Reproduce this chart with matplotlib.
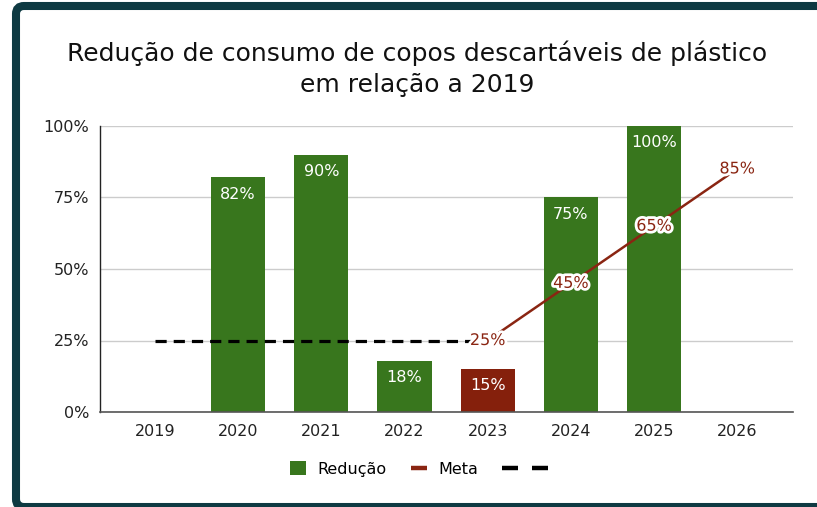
import numpy as np
import matplotlib
matplotlib.use('Agg')
import matplotlib.pyplot as plt
from matplotlib.patches import FancyBboxPatch, Patch
from matplotlib.lines import Line2D
from matplotlib.legend_handler import HandlerBase
import matplotlib.patheffects as pe
from matplotlib.transforms import IdentityTransform

plt.rcParams['font.family'] = ['DejaVu Sans']

# ---- data ----
years = ['2019', '2020', '2021', '2022', '2023', '2024', '2025', '2026']
reducao = [None, 82, 90, 18, 15, 75, 100, None]
meta = [None, None, None, None, 25, 45, 65, 85]
baseline = [25, 25, 25, 25, 25, None, None, None]
yticks = [0, 25, 50, 75, 100]
ytick_labels = ['0%', '25%', '50%', '75%', '100%']
title = 'Redução de consumo de copos descartáveis de plástico\nem relação a 2019'
legend_labels = ['Redução', 'Meta', '']

GREEN = '#38761d'
RED = '#85200c'
META = '#8a2512'
BORDER = '#0e3a42'

W, H = 817, 507
fig = plt.figure(figsize=(W / 100, H / 100), dpi=100)
fig.patch.set_facecolor('white')

# border (display pixels)
border = FancyBboxPatch((16, 0), 830, 501, boxstyle='round,pad=0,rounding_size=8',
                        transform=IdentityTransform(), facecolor='white',
                        edgecolor=BORDER, linewidth=5.8, zorder=-5)
fig.patches.append(border)

ax = fig.add_axes([100 / W, (H - 412) / H, (793 - 100) / W, (412 - 126) / H])
ax.set_zorder(2)
ax.set_facecolor('none')

x = np.arange(len(years))
ax.set_xlim(-0.66, 7.67)
ax.set_ylim(0, 100)

# bars
for i, v in enumerate(reducao):
    if v is None:
        continue
    col = RED if years[i] == '2023' else GREEN
    ax.bar(x[i], v, width=0.65, color=col, zorder=2)
    ax.annotate(f'{v}%', (x[i], v), xytext=(0, -12), textcoords='offset points',
                ha='center', va='center', color='white', fontsize=11.5, zorder=5)

# baseline dashed
bx = [x[i] for i, v in enumerate(baseline) if v is not None]
by = [v for v in baseline if v is not None]
ax.plot(bx, by, color='black', lw=2.3, dashes=(3.5, 2.2), zorder=3)

# meta line
mx = [x[i] for i, v in enumerate(meta) if v is not None]
my = [v for v in meta if v is not None]
ax.plot(mx, my, color=META, lw=1.8, zorder=3, solid_capstyle='butt')
for xi, v in zip(mx, my):
    ax.text(xi, v, f'{v}%', ha='center', va='center', color=META, fontsize=11.5, zorder=6,
            path_effects=[pe.withStroke(linewidth=4, foreground='white')])

# axes styling
ax.set_yticks(yticks)
ax.set_yticklabels(ytick_labels)
ax.set_xticks(x)
ax.set_xticklabels(years)
ax.tick_params(axis='both', length=0, labelsize=11.5, colors='#222222')
ax.tick_params(axis='y', pad=8)
ax.tick_params(axis='x', pad=9)
ax.yaxis.grid(True, color='#cccccc', lw=1, zorder=0)
ax.set_axisbelow(True)
for s in ['top', 'right']:
    ax.spines[s].set_visible(False)
ax.spines['left'].set_color('#222222')
ax.spines['left'].set_linewidth(1)
ax.spines['bottom'].set_color('#555555')
ax.spines['bottom'].set_linewidth(1.2)

# title
fig.text(417 / W, 1 - 68.5 / H, title, ha='center', va='center', fontsize=18,
         color='#111111', linespacing=1.35)


# legend
class TwoDash(HandlerBase):
    def create_artists(self, legend, orig_handle, xdescent, ydescent, width, height,
                       fontsize, trans):
        y = height / 2 - ydescent
        x0 = -xdescent
        arts = []
        for a, b in [(0.0, 1.0), (1.85, 2.85)]:
            l = Line2D([x0 + a * width, x0 + b * width], [y, y], color='black', lw=3.2,
                       solid_capstyle='butt')
            l.set_transform(trans)
            arts.append(l)
        return arts


h1 = Patch(facecolor=GREEN, edgecolor='none')
h2 = Line2D([], [], color=META, lw=3.2, solid_capstyle='butt')
h3 = Line2D([], [], color='black', lw=3.2, ls='--')
leg = fig.legend([h1, h2, h3], legend_labels, loc='center',
                 bbox_to_anchor=(410 / W, 1 - 469 / H), ncol=3, frameon=False,
                 fontsize=11.5, handlelength=1.0, handleheight=1.0, handletextpad=0.75,
                 columnspacing=1.5, handler_map={h3: TwoDash()})

fig.savefig('out.png', dpi=100)
